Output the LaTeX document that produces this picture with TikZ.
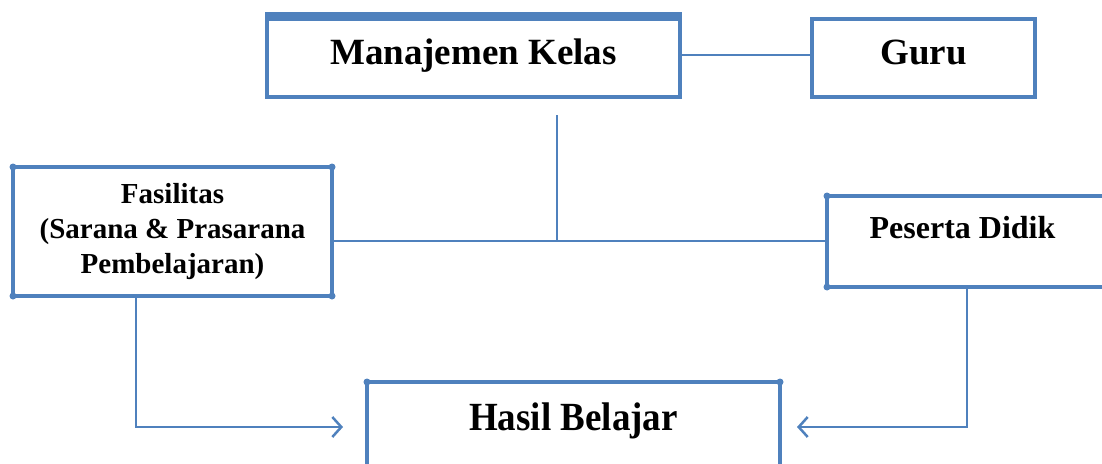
\documentclass[tikz,border=0pt]{standalone}
\usepackage{fontspec}
\setmainfont{Liberation Serif}
\usepackage[xetex]{xcolor}
\usepackage{tikz}
\usetikzlibrary{arrows.meta}
\definecolor{boxblue}{HTML}{4F81BD}

\begin{document}
\begin{tikzpicture}[x=1pt, y=-1pt,
  box/.style={draw=boxblue, line width=4.5pt, inner sep=0pt, outer sep=0pt, align=center, font=\bfseries},
  link/.style={draw=boxblue, line width=2.5pt},
  arr/.style={link, -{Straight Barb[length=9pt,width=20pt]}}]
\useasboundingbox (0,0) rectangle (1102,463);
\clip (0,0) rectangle (1102,463);
\def\dots#1{
\foreach \c in {north west,north east,south west,south east}
{ \fill[boxblue] (#1.\c) circle (3.5pt); }
}

%Manajemen Kelas & Guru
\node[box, line width=4pt, minimum width=413pt, minimum height=82pt, text height=26pt, text depth=10pt,
  font=\bfseries\fontsize{37}{44}\selectfont] (mk) at (473.5,56) {Manajemen Kelas};
\draw[boxblue, line width=9pt] ([xshift=-2pt,yshift=-1pt]mk.north west) -- ([xshift=2pt,yshift=-1pt]mk.north east);
\node[box, line width=4pt, minimum width=223pt, minimum height=78pt, text height=26pt, text depth=14pt,
  font=\bfseries\fontsize{37}{44}\selectfont] (guru) at (923.5,58) {Guru};
\draw[link] (mk.east |- 0,55) -- (guru.west |- 0,55);

%Fasilitas
\node[box, minimum width=319pt, minimum height=129pt,
  font=\bfseries\fontsize{29}{35}\selectfont] (fas) at (172.5,231.5)
  {Fasilitas\\(Sarana \& Prasarana\\Pembelajaran)};
\dots{fas}

%Peserta Didik
\node[box, anchor=north west, minimum width=301pt, text height=42pt, text depth=49pt,
  font=\bfseries\fontsize{32}{38}\selectfont] (pd) at (827,196) {Peserta Didik\hspace*{30pt}};
\dots{pd}

%Hasil Belajar
\node[box, anchor=north, minimum width=413pt, text height=48pt, text depth=50pt,
  font=\bfseries\fontsize{37}{44}\selectfont] (hb) at (573.5,382) {\scalebox{1}[1.08]{Hasil Belajar}};
\dots{hb}

%garis tengah
\coordinate (top) at (557,115);
\coordinate (jn) at (557,241);
\draw[link, line width=2pt] (top) -- (jn);
\draw[link, line width=2pt] (fas.east |- jn) -- (pd.west |- jn);

%panah
\draw[arr] ([xshift=123pt]fas.south west) |- ([xshift=-24pt,yshift=4pt]hb.west);
\draw[arr] ([xshift=140pt]pd.south west) |- ([xshift=17pt,yshift=4pt]hb.east);
\end{tikzpicture}
\end{document}
